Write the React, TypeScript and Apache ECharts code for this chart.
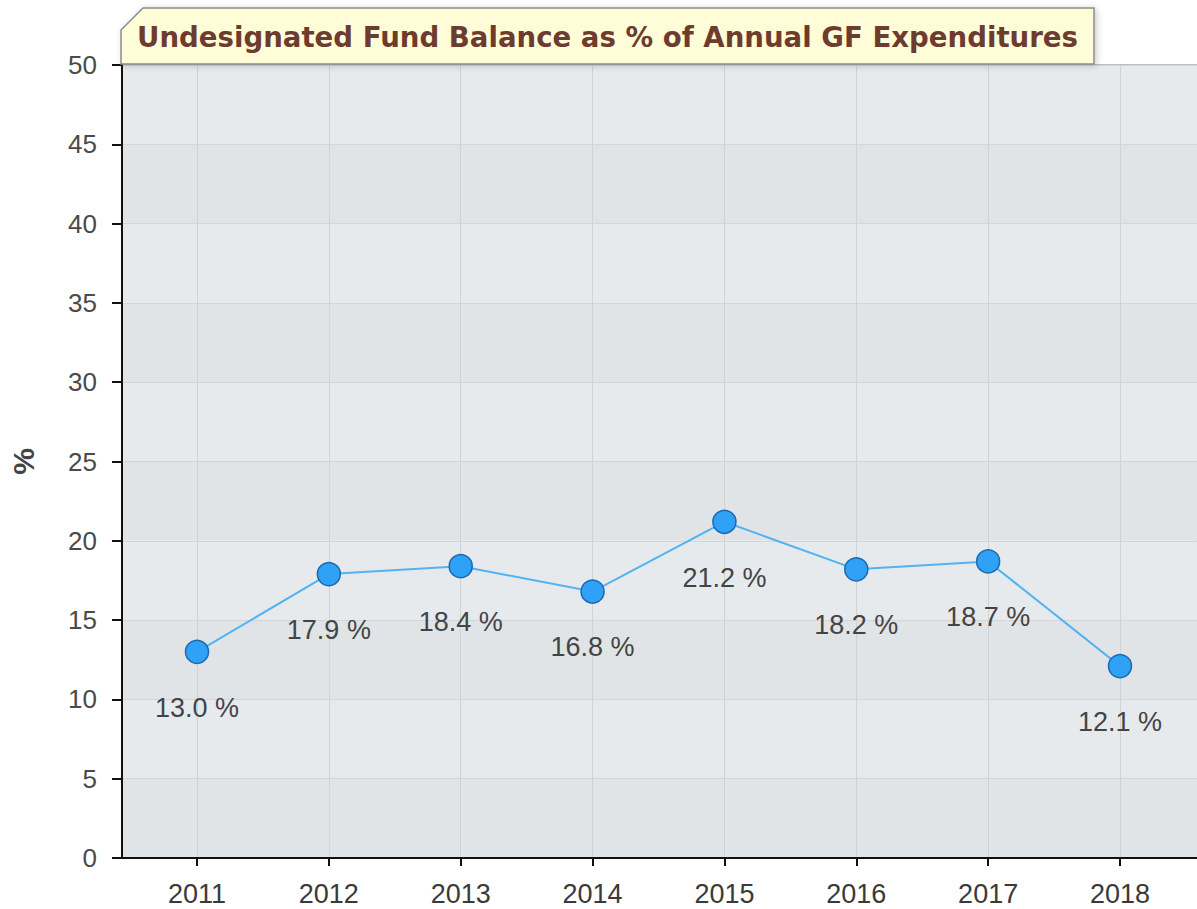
import React, { useEffect, useRef } from "react";
import * as echarts from "echarts";

const years = ["2011", "2012", "2013", "2014", "2015", "2016", "2017", "2018"];
const pctValues = [13.0, 17.9, 18.4, 16.8, 21.2, 18.2, 18.7, 12.1];
const titleText = "Undesignated Fund Balance as % of Annual GF Expenditures";
const yMin = 0;
const yMax = 50;
const yStep = 5;

const FONT = "Liberation Sans, Arial, sans-serif";

export default function App() {
  const ref = useRef<HTMLDivElement>(null);
  useEffect(() => {
    if (!ref.current) return;
    const chart = echarts.init(ref.current, null, { renderer: "svg" });
    chart.setOption({
      animation: false,
      backgroundColor: "#ffffff",
      grid: [
        { left: 122, top: 65, right: -1, bottom: 51, show: true, borderColor: "#7a7a7a", borderWidth: 1, backgroundColor: "transparent" },
        { left: 197, top: 65, right: 77, bottom: 51 },
      ],
      xAxis: [
        {
          gridIndex: 0, type: "value", min: 0, max: 1,
          axisLine: { show: true, lineStyle: { color: "#111", width: 2 } },
          axisTick: { show: false }, axisLabel: { show: false }, splitLine: { show: false },
        },
        {
          gridIndex: 1, type: "category", data: years, boundaryGap: false,
          axisLine: { show: false },
          axisTick: { show: true, length: 8, lineStyle: { color: "#111", width: 2 } },
          axisLabel: { fontSize: 27, color: "#3a3a3a", margin: 22, fontFamily: FONT },
          splitLine: { show: true, lineStyle: { color: "#cfd2d6", width: 1 } },
        },
      ],
      yAxis: [
        {
          gridIndex: 0, type: "value", min: yMin, max: yMax, interval: yStep,
          axisLine: { show: true, lineStyle: { color: "#111", width: 2 } },
          axisTick: { show: true, length: 10, lineStyle: { color: "#111", width: 2 } },
          axisLabel: { fontSize: 26, color: "#4a4a4a", margin: 25, fontFamily: FONT },
          splitLine: { show: true, lineStyle: { color: "#d3d6d9", width: 1 } },
          splitArea: { show: true, areaStyle: { color: ["#e1e4e7", "#e7eaed"] } },
          name: "%", nameLocation: "middle", nameGap: 84, nameRotate: 90,
          nameTextStyle: { fontSize: 30, color: "#444", fontWeight: "bold", fontFamily: FONT },
        },
        { gridIndex: 1, type: "value", min: yMin, max: yMax, interval: yStep, show: false },
      ],
      graphic: [
        {
          type: "polygon",
          shape: { points: [[121, 30], [143, 8], [1094, 8], [1094, 64], [121, 64]] },
          style: { fill: "#fffcd8", stroke: "#8c8c8c", lineWidth: 1.5, shadowBlur: 6, shadowColor: "rgba(0,0,0,0.2)", shadowOffsetX: 2, shadowOffsetY: 1 },
          z: 10,
        },
        {
          type: "text",
          x: 137, y: 37,
          style: { text: titleText, fill: "#6e3b2f", font: "bold 27.6px 'DejaVu Sans', Verdana, sans-serif", verticalAlign: "middle", textAlign: "left" },
          z: 11,
        },
      ],
      series: [
        {
          type: "line",
          xAxisIndex: 1, yAxisIndex: 1,
          data: pctValues,
          symbol: "circle", symbolSize: 23,
          lineStyle: { color: "#52b3f2", width: 2 },
          itemStyle: { color: "#2fa2f7", borderColor: "#1b69b0", borderWidth: 1.5 },
          label: {
            show: true, position: "bottom", distance: 30,
            formatter: (p: any) => p.value.toFixed(1) + " %",
            fontSize: 27, color: "#444", fontFamily: FONT,
          },
          z: 5,
        },
      ],
    });
    return () => chart.dispose();
  }, []);
  return <div ref={ref} style={{ position: "absolute", left: 0, top: 0, width: 1197, height: 909 }} />;
}
